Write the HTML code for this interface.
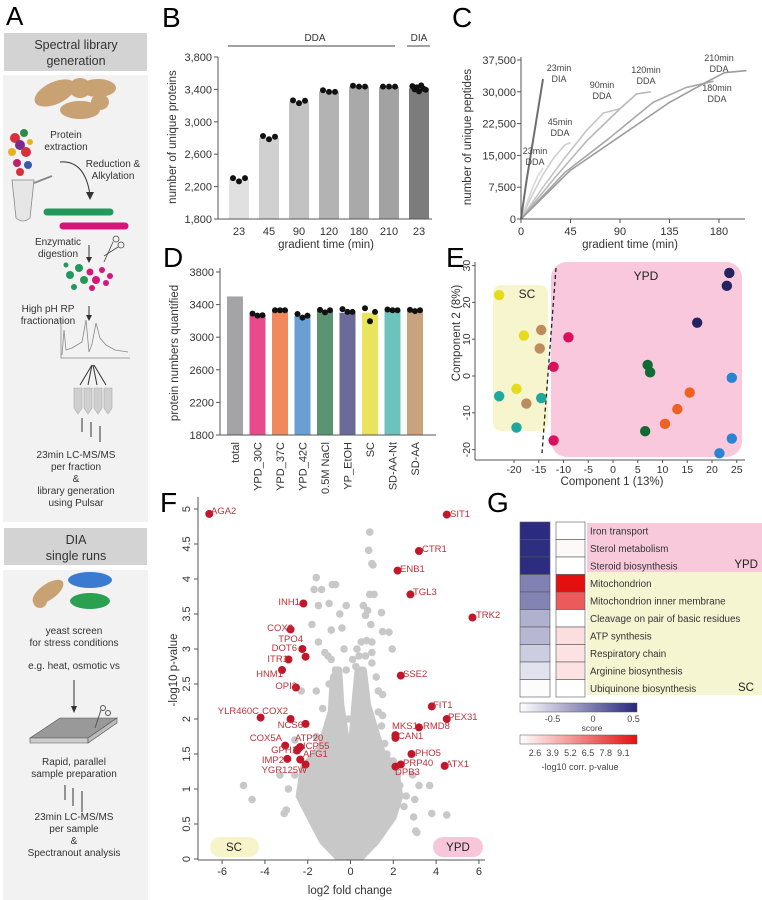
<!DOCTYPE html>
<html><head><meta charset="utf-8"><style>
html,body{margin:0;padding:0;background:#fff;}
svg{display:block;font-family:"Liberation Sans",Arial,sans-serif;}
</style></head><body>
<svg id="fig" width="762" height="900" viewBox="0 0 762 900" xmlns="http://www.w3.org/2000/svg">
<g>
<text x="6" y="25" font-size="26">A</text>
<rect x="4" y="33" width="143" height="38" fill="#d3d3d3"/>
<text x="76" y="49" font-size="12.5" text-anchor="middle" fill="#333">Spectral library</text>
<text x="76" y="65" font-size="12.5" text-anchor="middle" fill="#333">generation</text>
<rect x="3" y="75" width="145" height="447" fill="#f2f2f2"/>
<g fill="#c9a274">
<ellipse cx="55" cy="93" rx="22" ry="11" transform="rotate(-25 55 93)"/>
<ellipse cx="98" cy="88" rx="18" ry="9"/><ellipse cx="80" cy="88" rx="11" ry="10"/>
<ellipse cx="80" cy="110" rx="20" ry="9"/><ellipse cx="100" cy="102" rx="9" ry="8"/>
</g>
<g>
<circle cx="15" cy="138" r="5" fill="#d8303a"/><circle cx="24" cy="133" r="4" fill="#2a8a4a"/><circle cx="20" cy="145" r="5" fill="#7a2a8a"/><circle cx="12" cy="152" r="4" fill="#e8b020"/><circle cx="26" cy="152" r="5" fill="#d8303a"/><circle cx="17" cy="163" r="4" fill="#c0206a"/><circle cx="28" cy="165" r="4" fill="#3a5ab0"/><circle cx="20" cy="172" r="4" fill="#d8303a"/><circle cx="30" cy="142" r="3" fill="#e8b020"/>
<path d="M12 180 L34 180 L30 218 Q23 224 16 218 Z" fill="#e6e6e6" stroke="#888" stroke-width="0.8"/>
<line x1="34" y1="183" x2="52" y2="176" stroke="#888" stroke-width="2"/>
</g>
<text x="66" y="138" font-size="10" text-anchor="middle" fill="#333">Protein</text>
<text x="66" y="150" font-size="10" text-anchor="middle" fill="#333">extraction</text>
<text x="113" y="167" font-size="10" text-anchor="middle" fill="#333">Reduction &amp;</text>
<text x="113" y="179" font-size="10" text-anchor="middle" fill="#333">Alkylation</text>
<path d="M60 162 Q85 160 90 195" fill="none" stroke="#333" stroke-width="1"/>
<path d="M86 192 L90 200 L94 192 Z" fill="#333"/>
<line x1="47" y1="212" x2="110" y2="212" stroke="#22995a" stroke-width="7" stroke-linecap="round" stroke-dasharray="4 1"/>
<line x1="63" y1="226" x2="125" y2="226" stroke="#d6157a" stroke-width="7" stroke-linecap="round" stroke-dasharray="4 1"/>
<text x="58" y="245" font-size="10" text-anchor="middle" fill="#333">Enzymatic</text>
<text x="58" y="257" font-size="10" text-anchor="middle" fill="#333">digestion</text>
<g stroke="#444" fill="none" stroke-width="0.8"><circle cx="116" cy="239" r="3"/><circle cx="121" cy="245" r="3"/><line x1="113" y1="242" x2="104" y2="262"/><line x1="118" y1="247" x2="104" y2="256"/></g>
<g><line x1="89" y1="245" x2="89" y2="258" stroke="#333"/><path d="M86 257 L89 263 L92 257Z" fill="#333"/></g>
<g>
<circle cx="70" cy="275" r="4" fill="#22995a"/><circle cx="79" cy="268" r="4" fill="#22995a"/><circle cx="84" cy="280" r="4" fill="#22995a"/><circle cx="90" cy="272" r="3.5" fill="#d6157a"/><circle cx="96" cy="280" r="4" fill="#d6157a"/><circle cx="102" cy="270" r="3" fill="#d6157a"/><circle cx="106" cy="283" r="3" fill="#d6157a"/><circle cx="74" cy="287" r="3" fill="#22995a"/><circle cx="92" cy="288" r="3" fill="#d6157a"/><circle cx="110" cy="276" r="3" fill="#d6157a"/><circle cx="66" cy="265" r="2.5" fill="#22995a"/>
</g>
<text x="48" y="312" font-size="10" text-anchor="middle" fill="#333">High pH RP</text>
<text x="48" y="324" font-size="10" text-anchor="middle" fill="#333">fractionation</text>
<g><line x1="89" y1="306" x2="89" y2="316" stroke="#333"/><path d="M86 315 L89 321 L92 315Z" fill="#333"/></g>
<path d="M61 318 L61 358 L130 358 M62 355 L64 330 L66 350 L72 348 L82 342 L86 320 L89 352 L92 344 L96 323 L100 338 L106 345 L115 350 L128 352" fill="none" stroke="#888" stroke-width="0.8"/>
<g stroke="#333" fill="none"><line x1="92" y1="365" x2="80" y2="385"/><line x1="92" y1="365" x2="88" y2="385"/><line x1="93" y1="365" x2="97" y2="385"/><line x1="94" y1="365" x2="106" y2="385"/></g>
<g fill="#cfcfcf" stroke="#aaa" stroke-width="0.6"><path d="M74 388h8v20l-4 6l-4-6z"/><path d="M84 388h8v20l-4 6l-4-6z"/><path d="M94 388h8v20l-4 6l-4-6z"/><path d="M104 388h8v20l-4 6l-4-6z"/></g>
<g stroke="#333"><line x1="82" y1="418" x2="82" y2="432"/><line x1="91" y1="422" x2="91" y2="437"/><line x1="100" y1="426" x2="100" y2="442"/></g>
<text x="76" y="458" font-size="10" text-anchor="middle" fill="#333">23min LC-MS/MS</text>
<text x="76" y="470" font-size="10" text-anchor="middle" fill="#333">per fraction</text>
<text x="76" y="482" font-size="10" text-anchor="middle" fill="#333">&amp;</text>
<text x="76" y="494" font-size="10" text-anchor="middle" fill="#333">library generation</text>
<text x="76" y="506" font-size="10" text-anchor="middle" fill="#333">using Pulsar</text>
<rect x="4" y="528" width="143" height="37" fill="#d3d3d3"/>
<text x="76" y="544" font-size="12.5" text-anchor="middle" fill="#333">DIA</text>
<text x="76" y="560" font-size="12.5" text-anchor="middle" fill="#333">single runs</text>
<rect x="3" y="570" width="145" height="330" fill="#f2f2f2"/>
<g>
<ellipse cx="48" cy="592" rx="18" ry="8" fill="#c9a274" transform="rotate(-35 48 592)"/><circle cx="40" cy="601" r="7" fill="#c9a274"/>
<ellipse cx="90" cy="580" rx="22" ry="8" fill="#3a7ad0"/><ellipse cx="90" cy="601" rx="20" ry="8" fill="#2aa050"/>
</g>
<text x="74" y="634" font-size="10" text-anchor="middle" fill="#333">yeast screen</text>
<text x="74" y="646" font-size="10" text-anchor="middle" fill="#333">for stress conditions</text>
<text x="74" y="669" font-size="10" text-anchor="middle" fill="#333">e.g. heat, osmotic vs</text>
<g><line x1="74" y1="680" x2="74" y2="708" stroke="#333"/><path d="M71 706 L74 713 L77 706Z" fill="#333"/></g>
<g><path d="M30 738 L60 718 L117 718 L88 738 Z" fill="#999" stroke="#555" stroke-width="0.6"/><path d="M30 738 L88 738 L88 743 L30 743Z" fill="#ccc" stroke="#555" stroke-width="0.6"/><path d="M88 738 L117 718 L117 723 L88 743Z" fill="#bbb" stroke="#555" stroke-width="0.6"/><circle cx="103" cy="708" r="2.5" fill="none" stroke="#555"/><circle cx="108" cy="713" r="2.5" fill="none" stroke="#555"/><line x1="101" y1="710" x2="95" y2="728" stroke="#555"/></g>
<text x="74" y="765" font-size="10" text-anchor="middle" fill="#333">Rapid, parallel</text>
<text x="74" y="777" font-size="10" text-anchor="middle" fill="#333">sample preparation</text>
<g stroke="#333"><line x1="65" y1="785" x2="65" y2="800"/><line x1="73" y1="788" x2="73" y2="806"/><line x1="82" y1="791" x2="82" y2="812"/></g>
<text x="74" y="820" font-size="10" text-anchor="middle" fill="#333">23min LC-MS/MS</text>
<text x="74" y="832" font-size="10" text-anchor="middle" fill="#333">per sample</text>
<text x="74" y="844" font-size="10" text-anchor="middle" fill="#333">&amp;</text>
<text x="74" y="856" font-size="10" text-anchor="middle" fill="#333">Spectranout analysis</text>
</g>
<text x="162" y="27" font-size="28">B</text>
<text x="452" y="27" font-size="28">C</text>
<text x="163" y="267" font-size="28">D</text>
<text x="446" y="267" font-size="28">E</text>
<text x="160" y="512" font-size="28">F</text>
<text x="487" y="512" font-size="28">G</text>
</svg>
<script>
// ---------- Panel B data ----------
const bCategories=['23','45','90','120','180','210','23'];
const bBarValues=[2290,2800,3250,3375,3435,3430,3415];
const bReplicates=[[2305,2265,2305],[2825,2785,2815],[3265,3230,3260],[3390,3370,3370],[3445,3435,3435],[3435,3435,3435],[3440,3400,3425,3375,3450,3410,3395]];
const bTicks=[1800,2200,2600,3000,3400,3800];
const bTickLabels=['1,800','2,200','2,600','3,000','3,400','3,800'];
// ---------- Panel C data ----------
const cSeriesNames=['23min DDA','45min DDA','90min DDA','120min DDA','180min DDA','210min DDA','23min DIA'];
const cTimes=[[0,5,10,15,20],[0,10,20,30,40,45],[0,20,40,60,75,90],[0,30,60,90,105,118],[0,40,80,120,150,175],[0,45,90,135,170,185,205],[0,5,10,15,20]];
const cPeptides=[[0,3500,7000,10000,12000],[0,5500,10500,14500,17500,18000],[0,7500,14500,21000,25000,26000],[0,9500,18500,26000,29500,30000],[0,11000,19000,27500,31000,32500],[0,11500,19500,27500,32500,34500,35000],[0,9000,17000,25000,33000]];
const cXTicks=[0,45,90,135,180];
const cYTicks=[0,7500,15000,22500,30000,37500];
const cYTickLabels=['0','7,500','15,000','22,500','30,000','37,500'];
// ---------- Panel D data ----------
const dCategories=['total','YPD_30C','YPD_37C','YPD_42C','0.5M NaCl','YP_EtOH','SC','SD-AA-Nt','SD-AA'];
const dBarValues=[3500,3270,3330,3260,3320,3300,3300,3330,3320];
const dReplicates=[[],[3290,3265,3270],[3330,3330,3330],[3285,3240,3265],[3335,3305,3330],[3345,3310,3310],[3355,3195,3310],[3340,3330,3330],[3335,3320,3330]];
const dTicks=[1800,2200,2600,3000,3400,3800];
// ---------- Panel E data ----------
const eGroups=['SC','SD-AA','SD-AA-Nt','YPD_30C','0.5M NaCl','YPD_37C','YP_EtOH','YPD_42C'];
const ePc1=[[-23,-18,-19.5],[-14.5,-14.8,-17.5],[-23,-14.5,-19.5],[-9,-12,-12],[7,7.5,6.5],[15.5,13,10.5],[23.5,23,17],[24,24,21.5]];
const ePc2=[[22,11,-3.5],[12.5,7.5,-7.5],[-5.5,-6,-14],[10.5,2.5,-17.5],[3,1,-15],[-4.5,-9,-13],[28,24.5,14.5],[-0.5,-17,-21]];
const eXTicks=[-20,-15,-10,-5,0,5,10,15,20,25];
const eYTicks=[-20,-10,0,10,20,30];
// ---------- Panel F data ----------
const fGenes=['AGA2','SIT1','CTR1','ENB1','TGL3','TRK2','INH1','COX8','DOT6','TPO4','ITR1','HNM1','OPI3','SSE2','FIT1','PEX31','YLR460C','COX2','NCS6','MKS1','RMD8','CAN1','COX5A','ATP20','ICP55','GPH1','AFG1','IMP2','YGR125W','PHO5','PRP40','DPB3','ATX1'];
const fLog2FC=[-6.6,4.5,3.2,2.2,2.8,5.7,-2.2,-2.8,-2.25,-2.1,-2.9,-3.2,-2.55,2.35,3.8,4.5,-4.2,-2.8,-2.1,2.1,3.2,2.1,-3.05,-2.35,-2.5,-2.45,-2.35,-2.95,-2.1,2.85,2.35,2.1,4.4];
const fNegLogP=[4.93,4.92,4.4,4.12,3.78,3.45,3.65,3.28,3.0,2.89,2.85,2.7,2.45,2.62,2.18,2.0,2.02,2.0,1.93,1.77,1.88,1.73,1.62,1.6,1.55,1.57,1.42,1.43,1.35,1.5,1.35,1.32,1.33];
const fBgX=[0.9,0.85,1.05,1.0,-1.6,-1.7,-1.35,-0.85,-0.7,0.9,1.1,-1.5,-1.0,-0.2,0.6,-1.8,-0.5,0.7,0.8,1.45,-0.4,-0.9,0.95,1.5,1.8,-1.5,0.5,0.75,1.0,-1.2,-0.3,0.3,1.0,1.95,-1.05,-0.9,0.1,0.4,0.7,-0.7,0.25,1.0,1.2,-1.0,-0.6,1.3,-2.3,-1.6,-0.2,1.5,-5,-4.6,-3.1,-3.0,-2.6,1.85,2.3,3.2,3.7,2.3,2.6,3.0,2.95,3.8,4.5,3.05,3.1,2.9,2.0,1.6,-3.3,-2.9,1.45,1.5,-0.1,-2.6,1.3,-1.6,-1.1,-1.8,-2.0,1.7,2.5,-0.9,0.9,1.6,-1.3,2.2];
const fBgY=[4.67,4.41,4.2,4.22,4.02,3.85,3.85,3.92,3.92,3.78,3.78,3.62,3.65,3.62,3.62,3.35,3.5,3.48,3.55,3.52,3.3,3.27,3.35,3.25,3.24,3.1,3.1,3.12,3.1,2.95,3.0,3.0,2.95,3.0,2.9,2.85,2.85,2.9,2.9,2.7,2.75,2.8,2.6,2.5,2.5,2.4,2.4,2.4,2.7,2.35,1.05,0.85,0.65,0.7,1.2,1.05,1.05,1.05,1.05,0.9,0.9,0.85,0.6,0.65,0.63,0.4,0.38,1.2,1.4,1.25,1.2,1.0,1.9,2.05,2.0,1.7,2.1,1.75,1.5,1.35,1.1,1.5,0.75,1.95,1.9,1.65,2.15,1.2];
const fCoreX=[-0.6,0.5,1.2,2.0,2.3,2.1,1.5,1.2,0.8,0.6,0.35,0.2,0.05,-0.2,-0.45,-0.55,-0.8,-0.9,-1.4,-2.2,-2.4,-1.9,-1.3];
const fCoreY=[0.03,0.03,0.25,0.6,0.9,1.3,1.5,1.8,2.2,2.7,2.7,2.2,1.6,1.7,2.2,2.7,2.6,2.1,1.6,1.3,0.9,0.6,0.25];
const fXTicks=[-6,-4,-2,0,2,4,6];
const fYTicks=[0,0.5,1,1.5,2,2.5,3,3.5,4,4.5,5];
// ---------- Panel G data ----------
const gTerms=['Iron transport','Sterol metabolism','Steroid biosynthesis','Mitochondrion','Mitochondrion inner membrane','Cleavage on pair of basic residues','ATP synthesis','Respiratory chain','Arginine biosynthesis','Ubiquinone biosynthesis'];
const gScores=[0.48,0.46,0.47,-0.12,-0.14,-0.45,-0.5,-0.65,-0.8,-0.98];
const gPvals=[1.3,1.5,1.3,9.6,7.0,1.3,2.4,2.3,2.3,1.3];
const gScoreTicks=[-0.5,0,0.5];
const gPTicks=[2.6,3.9,5.2,6.5,7.8,9.1];

const NS='http://www.w3.org/2000/svg';
const svg=document.getElementById('fig');
function el(tag,at,parent){const e=document.createElementNS(NS,tag);for(const k in at)e.setAttribute(k,at[k]);(parent||svg).appendChild(e);return e;}
function tx(s,at,parent){const e=el('text',at,parent);e.textContent=s;return e;}
function grp(name){const g=el('g',{});return g;}

// ===== Panel B =====
const xB=i=>239+i*30;
const yB=v=>219-(v-1800)*162/2000;
const gB=grp('panel-b-chart');
const bCols=['#e0e0e0','#d0d0d0','#c2c2c2','#b3b3b3','#a9a9a9','#a2a2a2','#7c7c7c'];
bCategories.forEach((c,i)=>{
  const r=el('rect',{x:xB(i)-10,y:yB(bBarValues[i]),width:20,height:219-yB(bBarValues[i]),fill:bCols[i]},gB);
  
  
  const n=bReplicates[i].length;
  bReplicates[i].forEach((v,j)=>{
    const dx=n==3?(j-1)*6:(j-3)*2.2;
    const d=el('circle',{cx:xB(i)+dx,cy:yB(v),r:3,fill:'#111'},gB);
    
    
  });
  const t=tx(c,{x:xB(i),y:235,'font-size':11,'text-anchor':'middle',fill:'#333'},gB);
  
  
});
el('line',{x1:218,y1:219,x2:432,y2:219,stroke:'#555'},gB);
el('line',{x1:218,y1:57,x2:218,y2:219,stroke:'#555'},gB);
bTicks.forEach((v,i)=>{
  el('line',{x1:214,x2:218,y1:yB(v),y2:yB(v),stroke:'#555'},gB);
  const t=tx(bTickLabels[i],{x:212,y:yB(v)+4,'font-size':11,'text-anchor':'end',fill:'#333'},gB);
  
  
});
el('line',{x1:228,y1:46,x2:395,y2:46,stroke:'#444'},gB);
el('line',{x1:407,y1:46,x2:430,y2:46,stroke:'#444'},gB);
let t=tx('DDA',{x:315,y:41,'font-size':10,'text-anchor':'middle',fill:'#333'},gB);


t=tx('DIA',{x:419,y:41,'font-size':10,'text-anchor':'middle',fill:'#333'},gB);


t=tx('gradient time (min)',{x:326,y:248,'font-size':11.5,'text-anchor':'middle',fill:'#333'},gB);


t=tx('number of unique proteins',{x:0,y:0,'font-size':11.5,'text-anchor':'middle',fill:'#333',transform:'translate(176,137) rotate(-90)'},gB);



// ===== Panel C =====
const xC=v=>521+v*1.1;
const yC=v=>219-v*159/37500;
const gC=grp('panel-c-chart');
const cCols=['#d8d8d8','#cfcfcf','#c4c4c4','#b8b8b8','#a8a8a8','#9c9c9c','#6e6e6e'];
cSeriesNames.forEach((n,i)=>{
  const pts=cTimes[i].map((tm,j)=>xC(tm)+','+yC(cPeptides[i][j])).join(' ');
  const p=el('polyline',{points:pts,fill:'none',stroke:cCols[i],'stroke-width':i==6?2:1.6,'stroke-linejoin':'round'},gC);
  
  
});
const cLabelPos=[[535,154],[560,125],[602,88],[646,73],[717,91],[719,61],[559,71]];
cSeriesNames.forEach((n,i)=>{
  const [a,b]=n.split(' ');
  const l=tx('',{x:cLabelPos[i][0],y:cLabelPos[i][1],'font-size':9,'text-anchor':'middle',fill:'#444'},gC);
  
  
  const s1=el('tspan',{x:cLabelPos[i][0]},l);s1.textContent=a;
  const s2=el('tspan',{x:cLabelPos[i][0],dy:11},l);s2.textContent=b;
});
el('line',{x1:521,y1:219,x2:745,y2:219,stroke:'#555'},gC);
el('line',{x1:521,y1:57,x2:521,y2:219,stroke:'#555'},gC);
cXTicks.forEach(v=>{
  el('line',{x1:xC(v),x2:xC(v),y1:219,y2:223,stroke:'#555'},gC);
  const l=tx(String(v),{x:xC(v),y:235,'font-size':11,'text-anchor':'middle',fill:'#333'},gC);
  
  
});
cYTicks.forEach((v,i)=>{
  el('line',{x1:517,x2:521,y1:yC(v),y2:yC(v),stroke:'#555'},gC);
  const l=tx(cYTickLabels[i],{x:516,y:yC(v)+4,'font-size':11,'text-anchor':'end',fill:'#333'},gC);
  
  
});
t=tx('gradient time (min)',{x:630,y:248,'font-size':11.5,'text-anchor':'middle',fill:'#333'},gC);


t=tx('number of unique peptides',{x:0,y:0,'font-size':11.5,'text-anchor':'middle',fill:'#333',transform:'translate(471,137) rotate(-90)'},gC);



// ===== Panel D =====
const xD=i=>235+i*22.5;
const yD=v=>435-(v-1800)*163/2000;
const gD=grp('panel-d-chart');
const dCols=['#a4a4a6','#e94b8a','#f08a5d','#6a9fd4','#5b9470','#6b6a98','#e9e45c','#6cc3bc','#c9a27e'];
dCategories.forEach((c,i)=>{
  const r=el('rect',{x:xD(i)-8,y:yD(dBarValues[i]),width:16,height:435-yD(dBarValues[i]),fill:dCols[i]},gD);
  
  
  dReplicates[i].forEach((v,j)=>{
    const d=el('circle',{cx:xD(i)+(j-1)*5,cy:yD(v),r:3,fill:'#111'},gD);
    
    
  });
  const l=tx(c,{x:0,y:0,'font-size':11,'text-anchor':'end',fill:'#333',transform:'translate('+(xD(i)+4)+',442) rotate(-90)'},gD);
  
  
});
el('line',{x1:220,y1:435,x2:436,y2:435,stroke:'#555'},gD);
el('line',{x1:220,y1:268,x2:220,y2:435,stroke:'#555'},gD);
dTicks.forEach(v=>{
  el('line',{x1:216,x2:220,y1:yD(v),y2:yD(v),stroke:'#555'},gD);
  const l=tx(String(v),{x:214,y:yD(v)+4,'font-size':11,'text-anchor':'end',fill:'#333'},gD);
  
  
});
t=tx('protein numbers quantified',{x:0,y:0,'font-size':11.5,'text-anchor':'middle',fill:'#333',transform:'translate(178,353) rotate(-90)'},gD);



// ===== Panel E =====
const xE=v=>613+v*4.95;
const yE=v=>376-v*3.68;
const gE=grp('panel-e-chart');
let bg=el('rect',{x:493,y:285,width:55,height:146,rx:8,fill:'#f7f5cd'},gE);


bg=el('rect',{x:551,y:262,width:191,height:195,rx:16,fill:'#f9c8dc'},gE);


const dl=el('line',{x1:556,y1:268,x2:542,y2:453,stroke:'#222','stroke-width':1.3,'stroke-dasharray':'4 3'},gE);


t=tx('SC',{x:527,y:298,'font-size':12,'text-anchor':'middle',fill:'#222'},gE);


t=tx('YPD',{x:646,y:280,'font-size':12,'text-anchor':'middle',fill:'#222'},gE);


const eCols=['#e2dc1c','#bd8c5c','#1ea89e','#d9115c','#0f6a34','#ee6120','#25235e','#2a84cf'];
eGroups.forEach((g,i)=>{
  ePc1[i].forEach((v,j)=>{
    const c=el('circle',{cx:xE(v),cy:yE(ePc2[i][j]),r:5.2,fill:eCols[i]},gE);
    
    
  });
});
el('line',{x1:475,y1:460,x2:745,y2:460,stroke:'#555'},gE);
el('line',{x1:475,y1:262,x2:475,y2:460,stroke:'#555'},gE);
eXTicks.forEach(v=>{
  el('line',{x1:xE(v),x2:xE(v),y1:460,y2:463,stroke:'#555'},gE);
  const l=tx(String(v),{x:xE(v),y:473,'font-size':10.5,'text-anchor':'middle',fill:'#333'},gE);
  
  
});
eYTicks.forEach(v=>{
  el('line',{x1:472,x2:475,y1:yE(v),y2:yE(v),stroke:'#555'},gE);
  const l=tx(String(v),{x:0,y:0,'font-size':10.5,'text-anchor':'middle',fill:'#333',transform:'translate(470,'+yE(v)+') rotate(-90)'},gE);
  
  
});
t=tx('Component 1 (13%)',{x:612,y:485,'font-size':11.5,'text-anchor':'middle',fill:'#333'},gE);


t=tx('Component 2 (8%)',{x:0,y:0,'font-size':11.5,'text-anchor':'middle',fill:'#333',transform:'translate(460,333) rotate(-90)'},gE);



// ===== Panel F =====
const xF=v=>350.5+v*21.4;
const yF=v=>859-v*70;
const gF=grp('panel-f-chart');
let pill=el('rect',{x:210,y:837,width:49,height:20,rx:10,fill:'#f6f4c8'},gF);


pill=el('rect',{x:433,y:837,width:50,height:20,rx:10,fill:'#f7c6d8'},gF);


t=tx('SC',{x:234,y:851,'font-size':11.5,'text-anchor':'middle',fill:'#222'},gF);


t=tx('YPD',{x:458,y:851,'font-size':11.5,'text-anchor':'middle',fill:'#222'},gF);


const core=el('polygon',{points:fCoreX.map((v,i)=>xF(v)+','+yF(fCoreY[i])).join(' '),fill:'#c8c8c8',stroke:'#c8c8c8','stroke-width':7,'stroke-linejoin':'round'},gF);


fBgX.forEach((v,i)=>{
  const c=el('circle',{cx:xF(v),cy:yF(fBgY[i]),r:3.8,fill:'#c8c8c8'},gF);
  
  
});
fGenes.forEach((g,i)=>{
  const c=el('circle',{cx:xF(fLog2FC[i]),cy:yF(fNegLogP[i]),r:4,fill:'#c0182a'},gF);
  
  
});
const fLabelAt={AGA2:[211,514,'start'],SIT1:[450,517,'start'],CTR1:[422,552,'start'],ENB1:[400,572,'start'],TGL3:[413,595,'start'],TRK2:[476,618,'start'],INH1:[300,605,'end'],COX8:[293,631,'end'],TPO4:[303,642,'end'],DOT6:[297,651,'end'],ITR1:[288,662,'end'],HNM1:[283,677,'end'],OPI3:[297,689,'end'],SSE2:[403,677,'start'],FIT1:[433,708,'start'],PEX31:[448,720,'start'],YLR460C:[259,714,'end'],COX2:[288,714,'end'],NCS6:[303,728,'end'],MKS1:[392,729,'start'],RMD8:[423,729,'start'],CAN1:[398,739,'start'],COX5A:[282,741,'end'],ATP20:[295,741,'start'],ICP55:[303,749,'start'],GPH1:[297,753,'end'],AFG1:[303,757,'start'],IMP2:[284,763,'end'],YGR125W:[307,773,'end'],PHO5:[415,756,'start'],PRP40:[403,766,'start'],DPB3:[395,775,'start'],ATX1:[446,767,'start']};
fGenes.forEach(g=>{
  const p=fLabelAt[g];
  const l=tx(g,{x:p[0],y:p[1],'font-size':9.5,'text-anchor':p[2],fill:'#c0303a'},gF);
  
  
});
el('line',{x1:198,y1:860,x2:485,y2:860,stroke:'#555'},gF);
el('line',{x1:198,y1:497,x2:198,y2:860,stroke:'#555'},gF);
fXTicks.forEach(v=>{
  el('line',{x1:xF(v),x2:xF(v),y1:860,y2:864,stroke:'#555'},gF);
  const l=tx(String(v),{x:xF(v),y:875,'font-size':11,'text-anchor':'middle',fill:'#333'},gF);
  
  
});
fYTicks.forEach(v=>{
  el('line',{x1:194,x2:198,y1:yF(v),y2:yF(v),stroke:'#555'},gF);
  const l=tx(String(v),{x:0,y:0,'font-size':11,'text-anchor':'middle',fill:'#333',transform:'translate(190,'+yF(v)+') rotate(-90)'},gF);
  
  
});
t=tx('log2 fold change',{x:350,y:894,'font-size':11.5,'text-anchor':'middle',fill:'#333'},gF);


t=tx('-log10 p-value',{x:0,y:0,'font-size':11.5,'text-anchor':'middle',fill:'#333',transform:'translate(177,670) rotate(-90)'},gF);



// ===== Panel G =====
const gG=grp('panel-g-heatmap');
const rowY=i=>522+i*17.5;
let band=el('rect',{x:587,y:523,width:175,height:49,fill:'#f8c9da'},gG);


band=el('rect',{x:587,y:572,width:175,height:123,fill:'#f6f5d2'},gG);


function mix(a,b,f){f=Math.max(0,Math.min(1,f));return 'rgb('+a.map((c,k)=>Math.round(c+(b[k]-c)*f)).join(',')+')';}
const scoreCol=v=>mix([255,255,255],[40,40,125],(v+1)/1.5);
const pCol=v=>mix([255,255,255],[228,16,16],(v-1.3)/8.3);
gTerms.forEach((term,i)=>{
  const a=el('rect',{x:520,y:rowY(i),width:30,height:17.5,fill:scoreCol(gScores[i]),stroke:'#555','stroke-width':0.6},gG);
  
  
  const b=el('rect',{x:556,y:rowY(i),width:29,height:17.5,fill:pCol(gPvals[i]),stroke:'#555','stroke-width':0.6},gG);
  
  
  const l=tx(term,{x:590,y:rowY(i)+12.5,'font-size':9.8,fill:'#333'},gG);
  
  
});
t=tx('YPD',{x:758,y:568,'font-size':11.5,'text-anchor':'end',fill:'#222'},gG);


t=tx('SC',{x:754,y:691,'font-size':11.5,'text-anchor':'end',fill:'#222'},gG);


const defs=el('defs',{});
const lg1=el('linearGradient',{id:'gs',x1:0,x2:1,y1:0,y2:0},defs);
el('stop',{offset:'0','stop-color':'#ffffff'},lg1);el('stop',{offset:'1','stop-color':'#28287d'},lg1);
const lg2=el('linearGradient',{id:'gp',x1:0,x2:1,y1:0,y2:0},defs);
el('stop',{offset:'0','stop-color':'#ffffff'},lg2);el('stop',{offset:'1','stop-color':'#e41010'},lg2);
const sb=el('rect',{x:520,y:703,width:117,height:9,fill:'url(#gs)',stroke:'#555','stroke-width':0.5},gG);


const xS=v=>593+v*81;
gScoreTicks.forEach(v=>{
  const l=tx(String(v),{x:xS(v),y:722,'font-size':9,'text-anchor':'middle',fill:'#444'},gG);
  
  
});
t=tx('score',{x:592,y:731,'font-size':8.5,'text-anchor':'middle',fill:'#444'},gG);


const pb=el('rect',{x:520,y:735,width:117,height:9,fill:'url(#gp)',stroke:'#555','stroke-width':0.5},gG);


const xP=v=>535+(v-2.6)*13.6;
gPTicks.forEach(v=>{
  const l=tx(String(v),{x:xP(v),y:756,'font-size':9,'text-anchor':'middle',fill:'#444'},gG);
  
  
});
t=tx('-log10 corr. p-value',{x:580,y:770,'font-size':9,'text-anchor':'middle',fill:'#444'},gG);


</script>
</body></html>
